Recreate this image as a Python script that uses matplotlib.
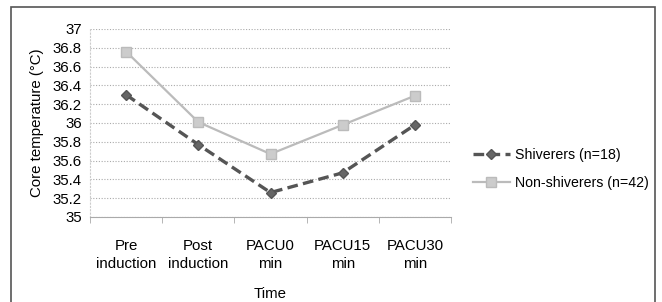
import matplotlib
matplotlib.use("Agg")
import matplotlib.pyplot as plt
from matplotlib.patches import Rectangle
from matplotlib.ticker import FixedLocator

categories = ["Pre\ninduction", "Post\ninduction", "PACU0\nmin", "PACU15\nmin", "PACU30\nmin"]
shiverers = [36.30, 35.77, 35.26, 35.47, 35.98]
non_shiverers = [36.76, 36.01, 35.67, 35.98, 36.29]
yticks = [35, 35.2, 35.4, 35.6, 35.8, 36, 36.2, 36.4, 36.6, 36.8, 37]
ytick_labels = ["35", "35.2", "35.4", "35.6", "35.8", "36", "36.2", "36.4", "36.6", "36.8", "37"]

plt.rcParams['font.family'] = ['Liberation Sans', 'DejaVu Sans']

W, H = 662, 302
FS = 10.2
fig = plt.figure(figsize=(W / 100, H / 100), dpi=100)
fig.patch.set_facecolor("white")

# outer frame
fig.patches.append(Rectangle((11 / W, -0.01), (655 - 11) / W, (H - 7) / H + 0.01,
                             transform=fig.transFigure, fill=False,
                             edgecolor="#555555", linewidth=1.2))

ax = fig.add_axes([90 / W, 1 - 217 / H, (451 - 90) / W, (217 - 29) / H])
x = list(range(len(categories)))

ax.set_xlim(-0.5, len(categories) - 0.5)
ax.set_ylim(35, 37)
ax.set_yticks(yticks)
ax.set_yticklabels(ytick_labels, fontsize=FS + 0.6)
ax.set_xticks(x)
ax.set_xticklabels(categories, fontsize=FS + 0.6, linespacing=1.38)
ax.tick_params(axis="y", length=0, pad=6)
ax.tick_params(axis="x", length=0, pad=16)
ax.xaxis.set_minor_locator(FixedLocator([i - 0.5 for i in range(len(categories) + 1)]))
ax.tick_params(axis="x", which="minor", length=4, color="#aaaaaa", direction="out")

ax.grid(axis="y", color="#aaaaaa", linestyle=(0, (1, 1.5)), linewidth=0.8)
for s in ["top", "right"]:
    ax.spines[s].set_visible(False)
ax.spines["left"].set_color("#cccccc")
ax.spines["left"].set_linestyle((0, (1, 2)))
ax.spines["bottom"].set_color("#aaaaaa")
ax.spines["bottom"].set_linewidth(0.8)

ax.plot(x, shiverers, color="#555555", linestyle=(0, (3.2, 1.6)), linewidth=2.4,
        marker="D", markersize=5.5, markerfacecolor="#666666", markeredgecolor="#555555",
        label="Shiverers (n=18)", zorder=3)
ax.plot(x, non_shiverers, color="#bbbbbb", linestyle="-", linewidth=1.6,
        marker="s", markersize=7, markerfacecolor="#cccccc", markeredgecolor="#bbbbbb",
        label="Non-shiverers (n=42)", zorder=3)

ax.set_ylabel("Core temperature (°C)", fontsize=FS + 0.6, labelpad=6)
ax.set_xlabel("Time", fontsize=FS + 0.6, labelpad=11)

leg = ax.legend(loc="center left", bbox_to_anchor=(473 / W, 1 - 169 / H),
                bbox_transform=fig.transFigure, frameon=False, fontsize=FS,
                handlelength=2.6, labelspacing=0.95, handletextpad=0.35,
                borderpad=0, borderaxespad=0)

fig.savefig("out.png", dpi=100, facecolor="white")
